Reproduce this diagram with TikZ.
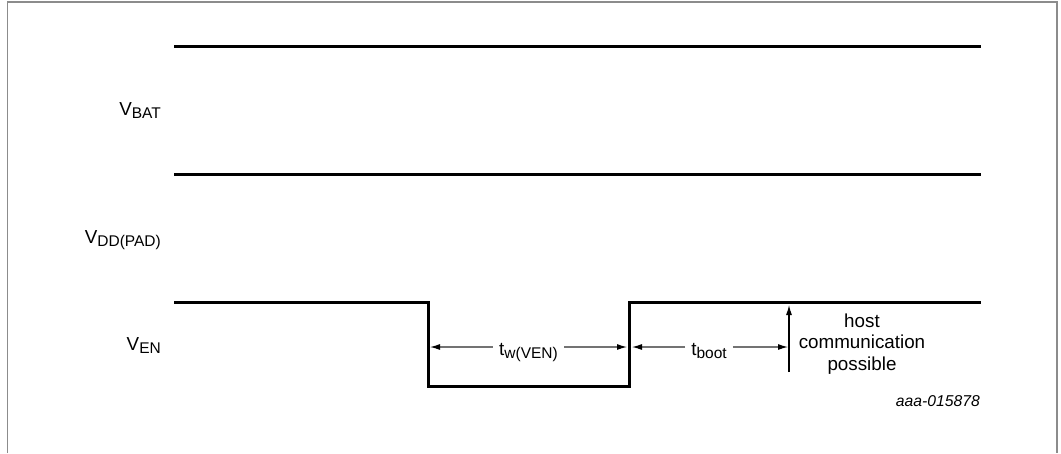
\documentclass[tikz,border=0pt]{standalone}
\usepackage{fontspec}
\setmainfont{Liberation Sans}
\usetikzlibrary{arrows.meta}
\newcommand{\lowsub}[1]{\raisebox{-3.5pt}{\fontsize{15.5}{15.5}\selectfont #1}}
\tikzset{
  frame/.style={draw=black!45, line width=1.3pt},
  sig/.style={draw=black, line width=3pt},
  dimline/.style={draw=black!55, line width=1.1pt},
  tipend/.style={-{Latex[length=10pt,width=6pt,black]}},
  lbl/.style={font=\fontsize{18.8}{21.5}\selectfont, inner sep=0pt},
  dimlbl/.style={lbl, fill=white, inner xsep=6pt, inner ysep=0pt},
  note/.style={font=\itshape\fontsize{15.7}{18}\selectfont, inner sep=0pt}
}
\begin{document}
\begin{tikzpicture}[x=1pt,y=-1pt]
\useasboundingbox (0,0) rectangle (1061,453);
\draw[frame] (7.5,453) -- (7.5,2) -- (1057,2) -- (1057,453);
% signals
\draw[sig] (174,46) -- (981,46);
\draw[sig] (174,174) -- (981,174);
\draw[sig] (174,302) -- (428,302) -- (428,386) -- (629,386) -- (629,302) -- (981,302);
% signal labels
\node[lbl, anchor=base east] (vbat) at (161,115) {V\lowsub{BAT}};
\node[lbl, anchor=base east] (vdd) at (161,243) {V\lowsub{DD(PAD)}};
\node[lbl, anchor=base east] (ven) at (161,350) {V\lowsub{EN}};
% t_w(VEN)
\coordinate (a1) at (430,347);
\coordinate (a2) at (627,347);
\node[dimlbl, anchor=base] (tw) at (528.5,355) {t\lowsub{w(VEN)}};
\draw[dimline, tipend] (a1 -| tw.west) -- (a1);
\draw[dimline, tipend] (a2 -| tw.east) -- (a2);
% t_boot
\coordinate (b1) at (632,347);
\coordinate (b2) at (788,347);
\node[dimlbl, anchor=base] (tb) at (709,355) {t\lowsub{boot}};
\draw[dimline, tipend] (b1 -| tb.west) -- (b1);
\draw[dimline, tipend] (b2 -| tb.east) -- (b2);
% host communication arrow
\coordinate (h1) at (789,372);
\coordinate (h2) at (789,305);
\draw[draw=black, line width=1.1pt, tipend] (h1) -- (h2);
\node[lbl, align=center, anchor=north] (host) at (862,313.5) {host\\communication\\possible};
\node[note, anchor=base east] (code) at (980,406) {aaa-015878};
\end{tikzpicture}
\end{document}
